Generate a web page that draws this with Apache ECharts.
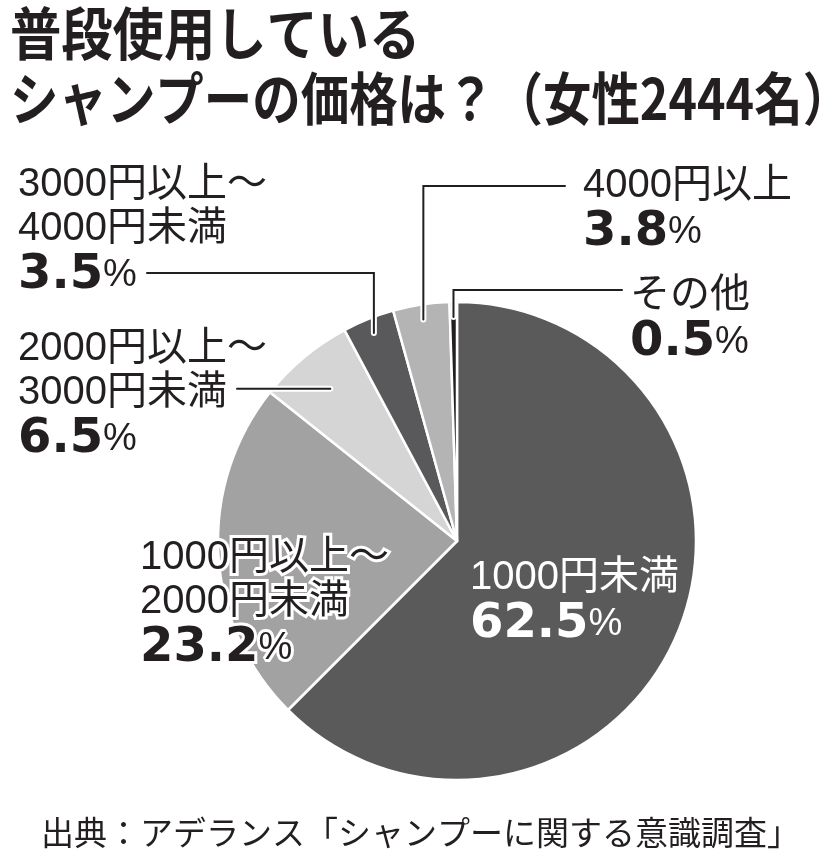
<!DOCTYPE html>
<html>
<head>
<meta charset="utf-8">
<title>シャンプーの価格</title>
<script src="https://cdn.jsdelivr.net/npm/echarts@6/dist/echarts.min.js"></script>
<style>
html, body { margin: 0; padding: 0; background: #fff; }
#chart { width: 820px; height: 863px; }
</style>
</head>
<body>
<div id="chart"></div>
<script>
// データ
var categories = ['1000円未満', '1000円以上～2000円未満', '2000円以上～3000円未満', '3000円以上～4000円未満', '4000円以上', 'その他'];
var shares = [62.5, 23.2, 6.5, 3.5, 3.8, 0.5];
var sliceColors = ['#5b5a5b', '#a2a2a2', '#d5d5d5', '#59585a', '#b4b4b4', '#231f20'];

var INK = '#231f20';
var CX = 457, CY = 541, RADIUS = 239;
var FONT = '"Liberation Sans", "Noto Sans CJK JP", sans-serif';
var JP = '"Noto Sans CJK JP", sans-serif';

// ラベル位置と引き出し線（レイアウト）
var labelPos = [
  {x: 470, y: 556, white: true},
  {x: 140, y: 536},
  {x: 18, y: 327, anchor: 198, endX: 237},
  {x: 18, y: 163, anchor: 224, elbowY: 273, endX: 147},
  {x: 583, y: 164, anchor: 224, elbowY: 186, endX: 565},
  {x: 630, y: 274, anchor: 224, elbowY: 290, endX: 622}
];

var total = shares.reduce(function(a, b) { return a + b; }, 0);

// 扇形の中心角上の点
function anchorPoint(i, r) {
  var before = 0;
  for (var k = 0; k < i; k++) before += shares[k];
  var a = (before + shares[i] / 2) / total * Math.PI * 2;
  return [CX + r * Math.sin(a), CY - r * Math.cos(a)];
}

function labelText(p) {
  var lines = p.name.replace('～', '～\n').split('\n').map(function(s) {
    return '{n|' + s + '}';
  });
  return lines.join('\n') + '\n{v|' + p.value.toFixed(1) + '}{p|%}';
}

var rich = {
  n: {fontSize: 40, lineHeight: 44, fontFamily: FONT},
  v: {fontSize: 48, lineHeight: 50, fontWeight: 'bold', fontFamily: '"DejaVu Sans", sans-serif'},
  p: {fontSize: 38, lineHeight: 50, fontFamily: '"Liberation Sans", sans-serif'}
};

function labelLayout(params) {
  var i = params.dataIndex;
  var L = labelPos[i];
  var out = {x: L.x, y: L.y, align: 'left', verticalAlign: 'top'};
  if (L.anchor) {
    var a = anchorPoint(i, L.anchor);
    if (L.elbowY) {
      out.labelLinePoints = [a, [a[0], L.elbowY], [L.endX, L.elbowY]];
    } else {
      out.labelLinePoints = [a, [(a[0] + L.endX) / 2, a[1]], [L.endX, a[1]]];
    }
  }
  return out;
}

// halo: 白い縁取り用の層、ink: 文字と線の層
function pieSeries(layer) {
  var halo = layer === 'halo';
  return {
    type: 'pie',
    z: halo ? 3 : 4,
    silent: true,
    center: [CX, CY],
    radius: RADIUS,
    startAngle: 90,
    clockwise: true,
    avoidLabelOverlap: false,
    emphasis: {disabled: true},
    itemStyle: {color: 'rgba(0,0,0,0)', borderWidth: 0},
    label: {
      show: true,
      position: 'outside',
      color: halo ? '#fff' : INK,
      textBorderColor: '#fff',
      textBorderWidth: halo ? 6 : 0,
      fontFamily: FONT,
      formatter: labelText,
      rich: rich
    },
    labelLine: {
      show: true,
      smooth: false,
      lineStyle: {color: halo ? '#fff' : INK, width: halo ? 6 : 2, cap: 'round'}
    },
    labelLayout: labelLayout,
    data: categories.map(function(name, i) {
      var L = labelPos[i];
      var item = {name: name, value: shares[i], labelLine: {show: !!L.anchor}};
      if (L.white) {
        item.label = halo ? {color: 'rgba(0,0,0,0)', textBorderWidth: 0} : {color: '#fff'};
      }
      return item;
    })
  };
}

var myChart = echarts.init(document.getElementById('chart'));
var option = {
  backgroundColor: '#fff',
  animation: false,
  title: {
    text: '出典：アデランス「シャンプーに関する意識調査」',
    left: 36,
    top: 811,
    textStyle: {color: INK, fontSize: 33, fontWeight: 'normal', fontFamily: JP}
  },
  graphic: [{
    type: 'text',
    x: 10,
    y: 5,
    scaleX: 0.9,
    style: {text: '普段使用している', fill: INK, fontSize: 57, fontWeight: 'bold', fontFamily: JP, verticalAlign: 'top'}
  }, {
    type: 'text',
    x: 10,
    y: 70,
    scaleX: 0.85,
    style: {text: 'シャンプーの価格は？（女性2444名）', fill: INK, fontSize: 57, fontWeight: 'bold', fontFamily: JP, verticalAlign: 'top'}
  }],
  series: [{
    type: 'pie',
    z: 2,
    silent: true,
    center: [CX, CY],
    radius: RADIUS,
    startAngle: 90,
    clockwise: true,
    emphasis: {disabled: true},
    itemStyle: {borderColor: '#fff', borderWidth: 2.5},
    label: {show: false},
    labelLine: {show: false},
    data: categories.map(function(name, i) {
      return {name: name, value: shares[i], itemStyle: {color: sliceColors[i]}};
    })
  }, pieSeries('halo'), pieSeries('ink')]
};
myChart.setOption(option);
</script>
</body>
</html>
